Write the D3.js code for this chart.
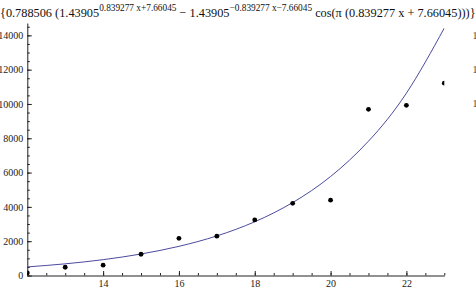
<!DOCTYPE html>
<html>
<head>
<meta charset="utf-8">
<script src="https://cdn.jsdelivr.net/npm/d3@7"></script>
<style>
  body { margin: 0; background: #fff; }
  svg { display: block; }
  text { font-family: "Liberation Serif", "DejaVu Serif", serif; }
</style>
</head>
<body>
<div id="chart"></div>
<script>
// data points
const xValues = [12, 13, 14, 15, 16, 17, 18, 19, 20, 21, 22, 23];
const yValues = [150, 480, 600, 1240, 2170, 2290, 3240, 4210, 4390, 9690, 9920, 11210];

// fitted curve, sampled at whole x
const fitX = [12, 13, 14, 15, 16, 17, 18, 19, 20, 21, 22, 23];
const fitY = [500, 680, 923, 1253, 1700, 2307, 3132, 4251, 5769, 7831, 10629, 14426];

const xMajor = [14, 16, 18, 20, 22];
const xMinor = d3.range(12, 23.01, 0.5);
const yMajor = [0, 2000, 4000, 6000, 8000, 10000, 12000, 14000];
const yMinor = d3.range(0, 14501, 500);
// the next panel's labels that reach into view at the right edge
const neighbourLabels = [10000, 12000, 14000];

const width = 476, height = 292;
const plotLeft = 27.3, plotRight = 444.3, plotTop = 23, plotBottom = 275.5;

const svg = d3.select("#chart")
    .append("svg")
    .attr("width", width)
    .attr("height", height);

const x = d3.scaleLinear().domain([12, 23]).range([plotLeft, plotRight]);
const y = d3.scaleLinear().domain([0, 14720]).range([plotBottom, plotTop]);

svg.append("clipPath").attr("id", "plot")
    .append("rect")
    .attr("x", plotLeft).attr("y", plotTop)
    .attr("width", plotRight - plotLeft).attr("height", plotBottom - plotTop);

// title
const title = svg.append("text").attr("x", 0).attr("y", 17).style("font-size", "12.3px").attr("fill", "#111");
const parts = [
    ["{0.788506 (1.43905", 0],
    ["0.839277 x+7.66045", 1],
    [" \u2212 1.43905", 0],
    ["\u22120.839277 x\u22127.66045", 1],
    [" cos(\u03c0 (0.839277 x + 7.66045)))}", 0]
];
parts.forEach(([t, sup], i) => {
    const prev = i > 0 ? parts[i - 1][1] : 0;
    title.append("tspan")
        .attr("dy", sup === prev ? 0 : (sup ? -6 : 6))
        .style("font-size", sup ? "9.3px" : "12.3px")
        .text(t);
});

// axes
const xAxis = svg.append("g").attr("transform", `translate(0,${plotBottom})`);
xAxis.call(d3.axisBottom(x).tickValues(xMinor).tickSize(-2.5).tickSizeOuter(0).tickFormat(""));
xAxis.append("g").call(d3.axisBottom(x).tickValues(xMajor).tickSize(-4.5).tickPadding(4.5).tickFormat(d3.format("d")))
    .call(g => g.select(".domain").remove());

const yAxis = svg.append("g").attr("transform", `translate(${plotLeft},0)`);
yAxis.call(d3.axisLeft(y).tickValues(yMinor).tickSize(-2.5).tickSizeOuter(0).tickFormat(""));
yAxis.append("g").call(d3.axisLeft(y).tickValues(yMajor).tickSize(-4.5).tickPadding(4).tickFormat(d3.format("d")))
    .call(g => g.select(".domain").remove());

svg.selectAll(".tick text").style("font-family", "Liberation Serif, serif").style("font-size", "10px").attr("fill", "#222");
svg.selectAll(".domain, .tick line").attr("stroke", "#222");

// labels of the neighbouring panel, cut by the right edge
svg.append("g")
    .selectAll("text")
    .data(neighbourLabels)
    .join("text")
    .attr("x", 497.5)
    .attr("y", d => y(d))
    .attr("dy", "0.32em")
    .attr("text-anchor", "end")
    .style("font-size", "10px")
    .attr("fill", "#5b3a33")
    .text(d => d);

const plot = svg.append("g").attr("clip-path", "url(#plot)");

plot.append("path")
    .datum(fitX.map((d, i) => [d, fitY[i]]))
    .attr("fill", "none")
    .attr("stroke", "#4b4b9e")
    .attr("stroke-width", 1)
    .attr("d", d3.line().x(d => x(d[0])).y(d => y(d[1])).curve(d3.curveNatural));

plot.append("g")
    .selectAll("circle")
    .data(xValues.map((d, i) => [d, yValues[i]]))
    .join("circle")
    .attr("cx", d => x(d[0]))
    .attr("cy", d => y(d[1]))
    .attr("r", 2.4)
    .attr("fill", "#000");
</script>
</body>
</html>
